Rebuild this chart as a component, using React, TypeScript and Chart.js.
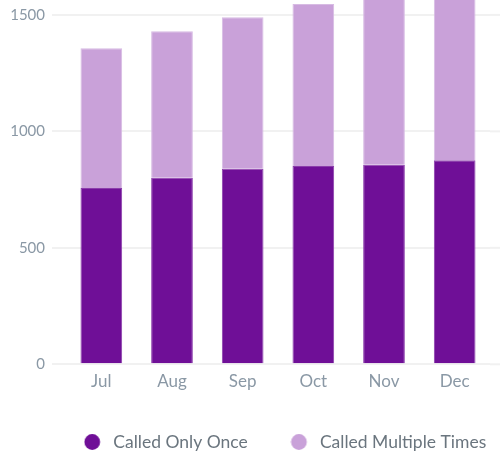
import React, { useEffect, useRef } from "react";
import { Chart, registerables } from "chart.js";

Chart.register(...registerables);

const months = ["Jul", "Aug", "Sep", "Oct", "Nov", "Dec"];
const calledOnce = [757, 801, 839, 851, 857, 876];
const calledMultiple = [600, 629, 651, 696, 743, 774];
const seriesNames = ["Called Only Once", "Called Multiple Times"];
const yTicks = [0, 500, 1000, 1500];
const yMax = 1564;

const DARK = "#6f0f97";
const LIGHT = "#c9a1d9";
const DARK_EDGE = "#8b3dab";
const LIGHT_EDGE = "#d7bbe3";
const GRID = "#f1f1f1";
const COLORS = [DARK, LIGHT];

const PLOT_BOTTOM = 364.3;
const X_AXIS_H = 30;
const LEGEND_FONT = 17.5;
const LEGEND_PAD = 46;
const LEGEND_START = 87;
const LEGEND_CENTER_Y = 442;

function makeDot(color: string) {
  const c = document.createElement("canvas");
  c.width = 24;
  c.height = 18;
  const ctx = c.getContext("2d")!;
  ctx.fillStyle = color;
  ctx.beginPath();
  ctx.arc(8.5, 9, 7.9, 0, Math.PI * 2);
  ctx.fill();
  return c;
}

const extendGrid = {
  id: "extendGrid",
  beforeDatasetsDraw(chart: any) {
    const y = chart.scales.y;
    const ctx = chart.ctx;
    ctx.save();
    ctx.strokeStyle = GRID;
    ctx.lineWidth = 2;
    y.ticks.forEach((t: any) => {
      const py = y.getPixelForValue(t.value);
      ctx.beginPath();
      ctx.moveTo(chart.chartArea.right, py);
      ctx.lineTo(chart.width, py);
      ctx.stroke();
    });
    ctx.restore();
  },
};

const legendFix = {
  id: "legendFix",
  beforeInit(chart: any) {
    const l = chart.legend;
    if (l && !l.__patched) {
      const orig = l.fit;
      l.fit = function () {
        orig.call(this);
        this.height = chart.height - PLOT_BOTTOM - X_AXIS_H;
      };
      l.__patched = true;
    }
  },
  afterLayout(chart: any) {
    const l = chart.legend;
    if (l) {
      l.left = LEGEND_START - LEGEND_PAD;
      l.right = chart.width * 10;
      l.top = LEGEND_CENTER_Y - LEGEND_FONT / 2 - LEGEND_PAD;
    }
  },
};

export default function App() {
  const ref = useRef<HTMLCanvasElement | null>(null);
  useEffect(() => {
    if (!ref.current) return;
    const dots = COLORS.map(makeDot);
    const chart = new Chart(ref.current, {
      type: "bar",
      data: {
        labels: months,
        datasets: [
          {
            label: seriesNames[0],
            data: calledOnce,
            backgroundColor: DARK,
            borderColor: DARK_EDGE,
            borderWidth: 1,
            categoryPercentage: 1,
            barPercentage: 0.59,
          },
          {
            label: seriesNames[1],
            data: calledMultiple,
            backgroundColor: LIGHT,
            borderColor: LIGHT_EDGE,
            borderWidth: 1,
            categoryPercentage: 1,
            barPercentage: 0.59,
          },
        ],
      },
      options: {
        responsive: false,
        animation: false,
        layout: { padding: { left: 0, right: 10, top: 0, bottom: 0 } },
        plugins: {
          tooltip: { enabled: false },
          legend: {
            position: "bottom",
            fullSize: false,
            align: "start",
            labels: {
              usePointStyle: true,
              boxWidth: LEGEND_FONT,
              boxHeight: 11,
              padding: LEGEND_PAD,
              color: "#6a757e",
              font: { family: "Lato", size: LEGEND_FONT },
              generateLabels(c: any) {
                const items = Chart.defaults.plugins.legend.labels.generateLabels(c);
                items.forEach((it: any, i: number) => {
                  it.pointStyle = dots[i];
                });
                return items;
              },
            },
          },
        },
        scales: {
          x: {
            stacked: true,
            grid: { display: false, drawTicks: false },
            border: { display: false },
            ticks: {
              padding: 7,
              color: "#8a98a5",
              font: { family: "Lato", size: 17 },
            },
            afterFit(s: any) {
              s.height = X_AXIS_H;
              s.paddingLeft = 0;
              s.paddingRight = 0;
            },
          },
          y: {
            stacked: true,
            min: 0,
            max: yMax,
            grid: { color: GRID, lineWidth: 2, tickLength: 14, drawTicks: true },
            border: { display: false },
            afterBuildTicks(s: any) {
              s.ticks = yTicks.map((v) => ({ value: v }));
            },
            ticks: {
              padding: 7,
              color: "#8a98a5",
              font: { family: "Lato", size: 15 },
              includeBounds: false,
              callback: (v: any) => String(v),
            },
            afterFit(s: any) {
              s.width = 66;
              s.paddingTop = 0;
              s.paddingBottom = 0;
            },
          },
        },
      },
      plugins: [extendGrid, legendFix],
    });
    return () => chart.destroy();
  }, []);
  return (
    <div style={{ position: "absolute", left: 0, top: 0, width: 500, height: 456 }}>
      <canvas ref={ref} width={500} height={456} />
    </div>
  );
}
